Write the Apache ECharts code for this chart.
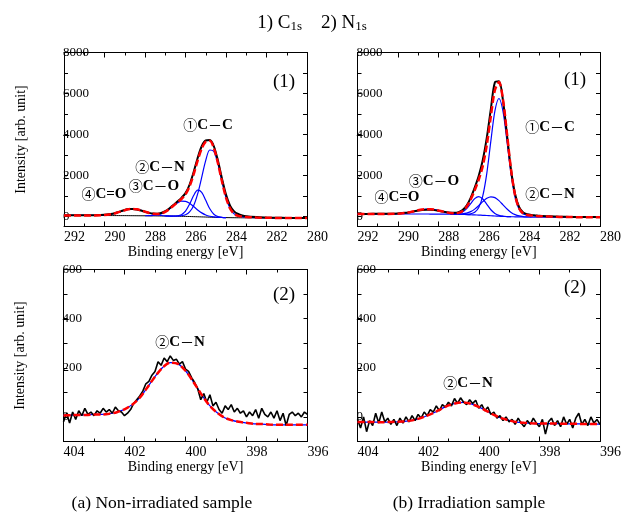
<!DOCTYPE html>
<html>
<head>
<meta charset="utf-8">
<script src="https://cdn.jsdelivr.net/npm/echarts@6/dist/echarts.min.js"></script>
<style>html,body{margin:0;padding:0;background:#fff}#c{width:624px;height:525px}</style>
</head>
<body>
<div id="c"></div>
<script>
// ---------- C1s panels (binding energy grid) ----------
const c1sEnergy = [292, 291.5, 291, 290.5, 290, 289.6, 289.4, 289.2, 289.0, 288.8, 288.6, 288.4, 288.2, 288.0, 287.8, 287.6, 287.4, 287.2, 287.0, 286.8, 286.6, 286.4, 286.2, 286.0, 285.8, 285.6, 285.4, 285.2, 285.0, 284.8, 284.6, 284.4, 284.2, 284.0, 283.8, 283.6, 283.4, 283.2, 283.0, 282.5, 282, 281.5, 281, 280.5, 280];
const _ = null;

// (a) non-irradiated, C1s
const aC1sBackground = [40, 40, 39, 38, 36, 34, 33, 32, 31, 29, 28, 26, 25, 23, 21, 20, 17, 15, 13, 10, 7, 3, -2, -7, -12, -18, -24, -31, -37, -44, -50, -56, -61, -65, -68, -71, -73, -75, -76, -78, -80, -81, -82, -83, -84];
const aC1sCdO = [40, 40, 39, 40, 58, 116, 169, 232, 295, 341, 358, 338, 289, 223, 157, 102, 62, 37, 22, 14, 8, _, _, _, _, _, _, _, _, _, _, _, _, _, _, _, _, _, _, _, _, _, _, _, _];
const aC1sCO = [_, _, _, _, _, _, _, _, _, _, _, _, _, 25, 27, 38, 63, 116, 210, 344, 503, 649, 736, 731, 634, 478, 310, 166, 64, 2, -32, -50, -59, -65, _, _, _, _, _, _, _, _, _, _, _];
const aC1sCN = [_, _, _, _, _, _, _, _, _, _, _, _, _, _, _, _, _, _, 13, 10, 10, 22, 79, 250, 588, 1011, 1273, 1170, 779, 364, 100, -16, -53, -64, _, _, _, _, _, _, _, _, _, _, _];
const aC1sCC = [_, _, _, _, _, _, _, _, _, _, _, _, _, _, _, _, _, _, _, _, 12, 13, 25, 74, 215, 516, 1093, 1901, 2730, 3236, 3169, 2558, 1697, 913, 383, 116, 21, -16, -38, -63, -74, -81, -82, -83, -84];
const aC1sFit = [40, 40, 39, 40, 58, 116, 169, 232, 295, 341, 358, 338, 289, 225, 163, 120, 108, 138, 219, 348, 512, 678, 844, 1069, 1461, 2041, 2724, 3299, 3647, 3690, 3337, 2604, 1707, 914, 383, 116, 21, -16, -38, -63, -74, -81, -82, -83, -84];
const aC1sMeasured = [45, 50, 45, 50, 70, 120, 180, 240, 310, 350, 360, 330, 280, 220, 165, 130, 125, 160, 250, 380, 550, 720, 900, 1130, 1540, 2150, 2850, 3420, 3700, 3720, 3420, 2720, 1850, 1060, 520, 240, 110, 40, 0, -40, -60, -75, -80, -85, -85];

// (b) irradiated, C1s
const bC1sBackground = [110, 110, 110, 110, 110, 110, 110, 110, 110, 110, 110, 109, 108, 107, 105, 103, 100, 97, 93, 88, 82, 75, 67, 58, 48, 37, 26, 14, 3, -7, -15, -22, -27, -31, -34, -36, -38, -39, -40, -41, -42, -43, -44, -45, -45];
const bC1sCdO = [110, 110, 110, 112, 127, 167, 202, 244, 289, 326, 347, 346, 324, 286, 239, 195, 157, 129, 110, 96, 85, 76, _, _, _, _, _, _, _, _, _, _, _, _, _, _, _, _, _, _, _, _, _, _, _];
const bC1sCO = [_, _, _, _, _, _, _, _, _, _, _, _, _, _, _, _, 100, 107, 133, 210, 374, 621, 861, 958, 842, 583, 318, 136, 43, 3, -13, -22, _, _, _, _, _, _, _, _, _, _, _, _, _];
const bC1sCN = [_, _, _, _, _, _, _, _, _, _, _, _, _, _, _, _, 101, 100, 103, 117, 152, 225, 349, 521, 714, 876, 952, 910, 763, 557, 352, 187, 78, 15, -16, -30, -36, _, _, _, _, _, _, _, _];
const bC1sCC = [_, _, _, _, _, _, _, _, _, _, _, _, _, _, _, _, _, _, 98, 98, 101, 122, 197, 430, 998, 2110, 3680, 5147, 5753, 5126, 3639, 2051, 913, 329, 111, 56, 36, 21, 5, -16, -30, -38, -44, -45, -45];
const bC1sFit = [110, 110, 110, 112, 127, 167, 202, 244, 289, 326, 347, 346, 324, 286, 239, 195, 158, 142, 165, 257, 466, 819, 1273, 1793, 2458, 3495, 4898, 6165, 6553, 5700, 4008, 2260, 1018, 375, 129, 62, 38, 21, 5, -16, -30, -38, -44, -45, -45];
const bC1sMeasured = [120, 115, 120, 125, 140, 170, 200, 240, 280, 310, 320, 320, 300, 270, 235, 200, 175, 170, 200, 300, 520, 900, 1400, 1980, 2750, 3850, 5250, 6550, 6600, 5650, 3950, 2250, 1080, 450, 190, 100, 60, 40, 20, 0, -20, -30, -35, -40, -40];

// ---------- N1s panels ----------
const n1sFitEnergy = [404, 403.75, 403.5, 403.25, 403, 402.75, 402.5, 402.25, 402, 401.75, 401.5, 401.25, 401, 400.75, 400.5, 400.25, 400, 399.75, 399.5, 399.25, 399, 398.75, 398.5, 398.25, 398, 397.75, 397.5, 397.25, 397, 396.75, 396.5, 396.25, 396];
const n1sDataEnergy = [404, 403.9, 403.8, 403.7, 403.6, 403.5, 403.4, 403.3, 403.2, 403.1,
  403, 402.9, 402.8, 402.7, 402.6, 402.5, 402.4, 402.3, 402.2, 402.1,
  402, 401.9, 401.8, 401.7, 401.6, 401.5, 401.4, 401.3, 401.2, 401.1,
  401, 400.9, 400.8, 400.7, 400.6, 400.5, 400.4, 400.3, 400.2, 400.1,
  400, 399.9, 399.8, 399.7, 399.6, 399.5, 399.4, 399.3, 399.2, 399.1,
  399, 398.9, 398.8, 398.7, 398.6, 398.5, 398.4, 398.3, 398.2, 398.1,
  398, 397.9, 397.8, 397.7, 397.6, 397.5, 397.4, 397.3, 397.2, 397.1,
  397, 396.9, 396.8, 396.7, 396.6, 396.5, 396.4, 396.3, 396.2, 396.1, 396];

const aN1sFit = [6, 7, 8, 8, 10, 10, 13, 19, 31, 50, 78, 120, 164, 201, 221, 216, 188, 144, 96, 52, 21, -1, -13, -20, -24, -28, -29, -31, -32, -32, -32, -32, -32];
const aN1sCN = aN1sFit; // single component: component + background equals the envelope
const aN1sMeasured = [-20, 15, -25, 20, -10, 25, 5, 35, 10, 20,
  5, 25, 15, 35, 20, 30, 15, 40, 25, 20,
  5, 15, 30, 55, 70, 85, 105, 135, 145, 170,
  185, 225, 210, 240, 225, 248, 230, 235, 215, 225,
  195, 185, 160, 140, 115, 70, 95, 60, 90, 45,
  60, 30, 15, 45, 30, 50, 20, 35, 15, 25,
  0, 20, 5, 30, -5, 35, 10, 0, 20, -5,
  25, -15, 15, -35, 10, 20, 5, 15, 0, 20, 10];

const bN1sFit = [-21, -21, -21, -22, -21, -20, -19, -15, -8, 3, 16, 32, 47, 56, 59, 53, 41, 25, 8, -5, -14, -21, -24, -26, -27, -27, -27, -28, -28, -28, -29, -29, -29];
const bN1sCN = bN1sFit;
const bN1sMeasured = [-10, -45, 0, -60, -15, -35, 15, -25, 20, -20,
  -5, -30, -10, -35, -5, -25, 0, -20, 5, -15,
  10, -5, 20, 5, 30, 20, 45, 25, 50, 40,
  60, 45, 75, 55, 78, 60, 50, 70, 55, 68,
  35, 50, 25, 40, 10, 20, -5, 5, -15, 0,
  -20, -10, -30, -5, -25, -40, -15, -30, -5, -25,
  -40, -10, -70, -20, -5, -35, -15, -40, 0, -30,
  -10, -45, -5, 15, -30, -10, -35, 0, -25, -10, -30];

// ---------- axis ticks / labels ----------
const c1sYLabels = [0, 2000, 4000, 6000, 8000];
const c1sYTicks = [0, 1000, 2000, 3000, 4000, 5000, 6000, 7000, 8000];
const n1sYLabels = [0, 200, 400, 600];
const n1sYTicks = [0, 100, 200, 300, 400, 500, 600];

// ---------- styling ----------
const SERIF = '"Liberation Serif", "Times New Roman", serif';
const CJK = '"Noto Sans CJK JP", "Noto Sans CJK SC", sans-serif';
const BLACK = '#000000', BLUE = '#0000ff', RED = '#ff0000';

const grids = [
  {left: 64, top: 52.5, width: 243, height: 174},
  {left: 357.5, top: 52.5, width: 243.5, height: 174},
  {left: 63.5, top: 269.5, width: 244, height: 172},
  {left: 357.5, top: 269.5, width: 243.5, height: 172}
];
const xRanges = [[280, 292], [280, 292], [396, 404], [396, 404]];
const yRanges = [[-500, 8000], [-500, 8000], [-100, 600], [-100, 600]];
const yLabelSets = [c1sYLabels, c1sYLabels, n1sYLabels, n1sYLabels];
const yTickSets = [c1sYTicks, c1sYTicks, n1sYTicks, n1sYTicks];

function pairs(xs, ys) {
  const out = [];
  for (let i = 0; i < xs.length; i++) if (ys[i] !== null) out.push([xs[i], ys[i]]);
  return out;
}

const xAxes = [], yAxes = [];
grids.forEach((g, i) => {
  const common = {
    type: 'value', gridIndex: i, min: xRanges[i][0], max: xRanges[i][1], interval: 2, inverse: true,
    axisLine: {show: true, onZero: false, lineStyle: {color: BLACK, width: 1}},
    axisTick: {show: true, inside: true, length: 5, lineStyle: {color: BLACK, width: 1}},
    minorTick: {show: true, splitNumber: 2, length: 3, lineStyle: {color: BLACK, width: 1}},
    splitLine: {show: false}, minorSplitLine: {show: false}
  };
  xAxes.push(Object.assign({}, common, {
    position: 'bottom',
    axisLabel: {show: true, align: 'left', margin: 4, fontSize: 14, color: BLACK, fontFamily: SERIF,
      showMinLabel: true, showMaxLabel: true, formatter: v => String(v)},
    name: 'Binding energy [eV]', nameLocation: 'middle', nameGap: 18,
    nameTextStyle: {fontSize: 14, color: BLACK, fontFamily: SERIF}
  }));
  xAxes.push(Object.assign({}, common, {position: 'top', axisLabel: {show: false}}));

  const yCommon = {
    type: 'value', gridIndex: i, min: yRanges[i][0], max: yRanges[i][1],
    axisLine: {show: true, onZero: false, lineStyle: {color: BLACK, width: 1}},
    axisTick: {show: true, inside: true, length: 4, customValues: yTickSets[i], lineStyle: {color: BLACK, width: 1}},
    splitLine: {show: false}
  };
  const left = Object.assign({}, yCommon, {
    position: 'left',
    axisLabel: {show: true, inside: true, margin: -1, customValues: yLabelSets[i], fontSize: 13,
      color: BLACK, fontFamily: SERIF, formatter: v => String(v)}
  });
  if (i === 0 || i === 2) {
    left.name = 'Intensity [arb. unit]';
    left.nameLocation = 'middle';
    left.nameGap = 36;
    left.nameTextStyle = {fontSize: 14, color: BLACK, fontFamily: SERIF};
  }
  yAxes.push(left);
  yAxes.push(Object.assign({}, yCommon, {position: 'right', axisLabel: {show: false}}));
});

function line(gi, xs, ys, color, width, dash, smooth) {
  return {
    type: 'line', xAxisIndex: 2 * gi, yAxisIndex: 2 * gi, data: pairs(xs, ys),
    showSymbol: false, symbol: 'none', smooth: smooth, silent: true, animation: false,
    lineStyle: {color: color, width: width, type: dash}
  };
}
const DASH = [7, 3];
const series = [
  line(0, c1sEnergy, aC1sBackground, BLACK, 1, 'solid', 0.3),
  line(0, c1sEnergy, aC1sCdO, BLUE, 1.2, 'solid', 0.3),
  line(0, c1sEnergy, aC1sCO, BLUE, 1.2, 'solid', 0.3),
  line(0, c1sEnergy, aC1sCN, BLUE, 1.2, 'solid', 0.3),
  line(0, c1sEnergy, aC1sCC, BLUE, 1.2, 'solid', 0.3),
  line(0, c1sEnergy, aC1sMeasured, BLACK, 2, 'solid', 0.3),
  line(0, c1sEnergy, aC1sFit, RED, 2.5, DASH, 0.3),

  line(1, c1sEnergy, bC1sBackground, BLUE, 1.2, 'solid', 0.3),
  line(1, c1sEnergy, bC1sCdO, BLUE, 1.2, 'solid', 0.3),
  line(1, c1sEnergy, bC1sCO, BLUE, 1.2, 'solid', 0.3),
  line(1, c1sEnergy, bC1sCN, BLUE, 1.2, 'solid', 0.3),
  line(1, c1sEnergy, bC1sCC, BLUE, 1.2, 'solid', 0.3),
  line(1, c1sEnergy, bC1sMeasured, BLACK, 2, 'solid', 0.3),
  line(1, c1sEnergy, bC1sFit, RED, 2.5, DASH, 0.3),

  line(2, n1sFitEnergy, aN1sCN, BLUE, 1.2, 'solid', 0.3),
  line(2, n1sDataEnergy, aN1sMeasured, BLACK, 1.6, 'solid', false),
  line(2, n1sFitEnergy, aN1sFit, RED, 2.5, DASH, 0.3),

  line(3, n1sFitEnergy, bN1sCN, BLUE, 1.2, 'solid', 0.3),
  line(3, n1sDataEnergy, bN1sMeasured, BLACK, 1.6, 'solid', false),
  line(3, n1sFitEnergy, bN1sFit, RED, 2.5, DASH, 0.3)
];

const annRich = {
  n: {fontFamily: CJK, fontSize: 14, fill: BLACK},
  b: {fontFamily: SERIF, fontSize: 15, fontWeight: 'bold', fill: BLACK},
  d: {fontFamily: CJK, fontSize: 14, fill: BLACK}
};
function ann(x, y, text) {
  return {type: 'text', x: x, y: y, silent: true,
    style: {text: text, rich: annRich, align: 'center', verticalAlign: 'middle',
      textAlign: 'center', textVerticalAlign: 'middle'}};
}
function plain(x, y, text, size) {
  return {type: 'text', x: x, y: y, silent: true,
    style: {text: text, fontFamily: SERIF, fontSize: size, fill: BLACK,
      align: 'center', verticalAlign: 'middle', textAlign: 'center', textVerticalAlign: 'middle'}};
}
const CC = '{n|①}{b|C}{d|－}{b|C}';
const CN = '{n|②}{b|C}{d|－}{b|N}';
const CO = '{n|③}{b|C}{d|－}{b|O}';
const CdO = '{n|④}{b|C=O}';

const graphics = [
  {type: 'text', x: 312, y: 22, silent: true,
    style: {text: '{m|1) C}{s|1s}{m|    2) N}{s|1s}', align: 'center', verticalAlign: 'middle',
      textAlign: 'center', textVerticalAlign: 'middle',
      rich: {m: {fontFamily: SERIF, fontSize: 19, lineHeight: 22, verticalAlign: 'bottom', fill: BLACK},
             s: {fontFamily: SERIF, fontSize: 13, lineHeight: 12, verticalAlign: 'bottom', fill: BLACK}}}},
  ann(208, 125, CC), ann(160, 167, CN), ann(154, 186, CO), ann(104, 194, CdO),
  plain(284, 82, '(1)', 19),
  ann(550, 127, CC), ann(434, 181, CO), ann(397, 197, CdO), ann(550, 194, CN),
  plain(575, 80, '(1)', 19),
  ann(180, 342, CN), plain(284, 295, '(2)', 19),
  ann(468, 383, CN), plain(575, 288, '(2)', 19),
  plain(162, 503, '(a) Non-irradiated sample', 17.5),
  plain(469, 503, '(b) Irradiation sample', 17.5)
];

const chart = echarts.init(document.getElementById('c'), null, {renderer: 'canvas'});
chart.setOption({
  animation: false,
  backgroundColor: '#ffffff',
  grid: grids,
  xAxis: xAxes,
  yAxis: yAxes,
  series: series,
  graphic: graphics
});
</script>
</body>
</html>
